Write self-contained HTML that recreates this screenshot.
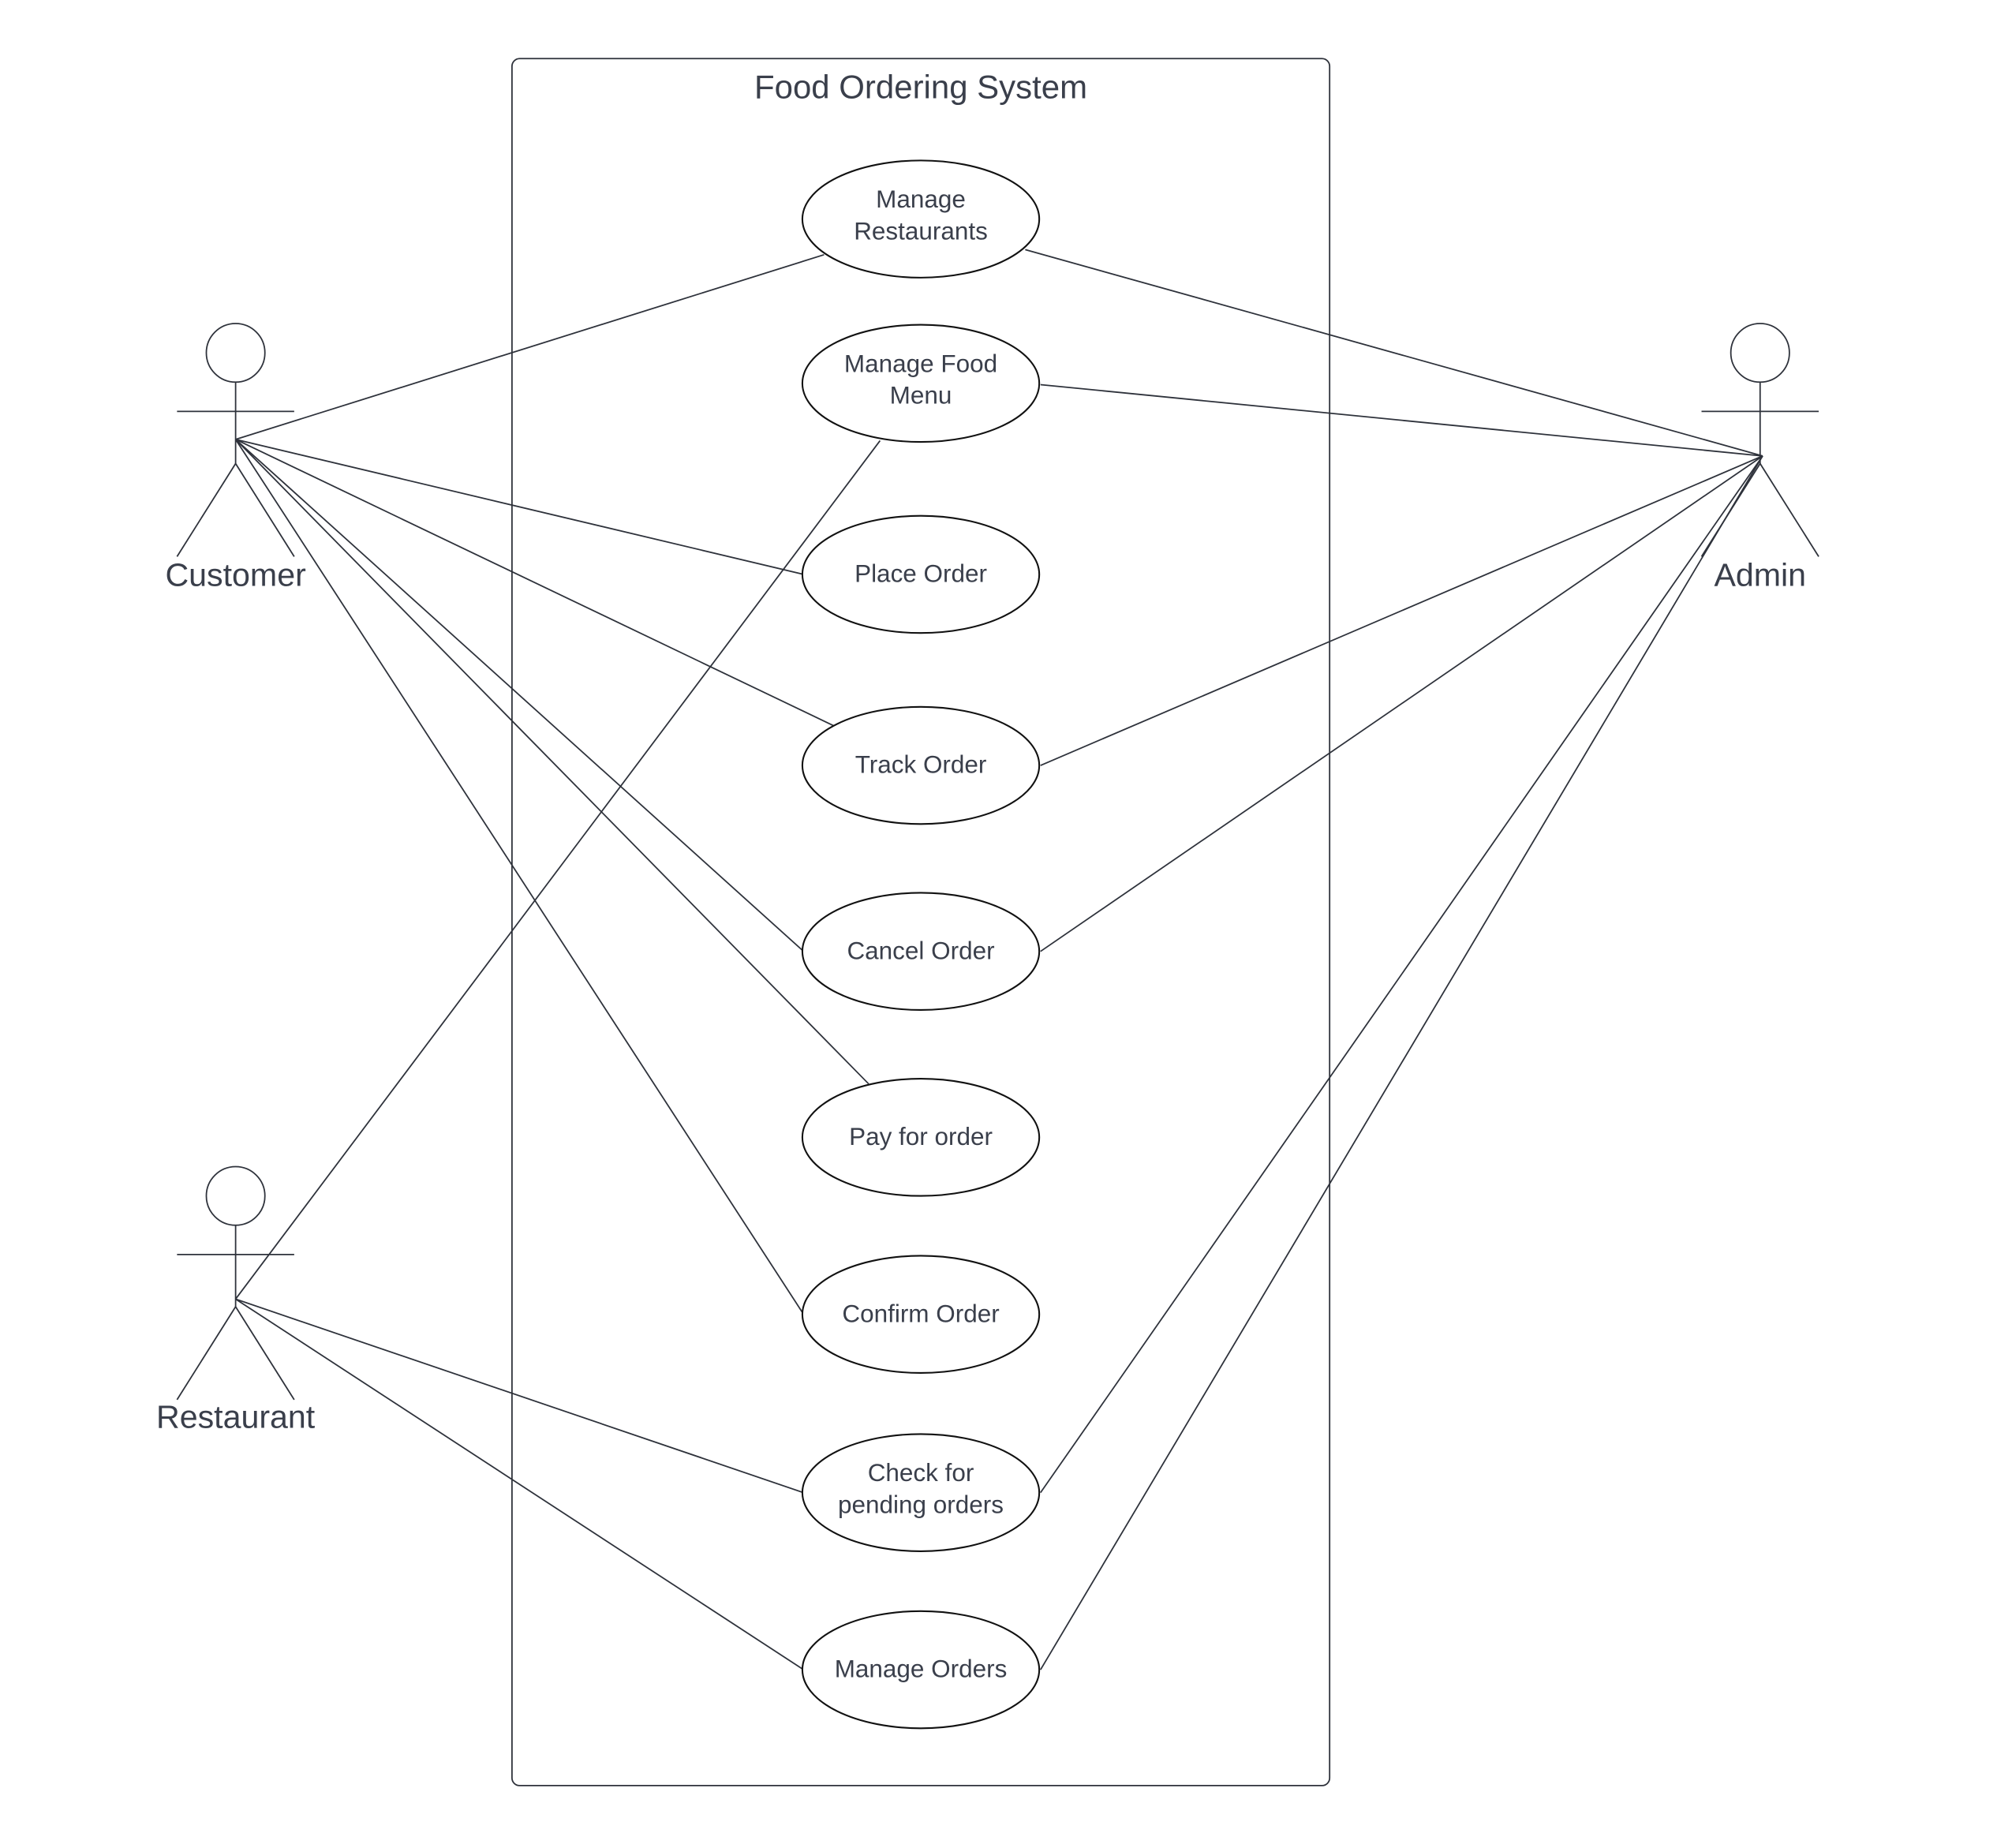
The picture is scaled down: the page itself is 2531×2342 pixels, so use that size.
<!DOCTYPE html>
<html><head><meta charset="utf-8"><style>
html,body{margin:0;padding:0;background:#fff;}
svg{display:block;}
text{font-family:"Liberation Sans",sans-serif;fill:#3a3f4b;text-anchor:middle;}
</style></head><body>
<svg width="2531" height="2342" viewBox="0 0 1568 1451" preserveAspectRatio="none" xmlns="http://www.w3.org/2000/svg">
<g fill="none" stroke="#2e323b" stroke-width="1.1">
<rect x="402" y="46" width="642" height="1356" rx="6"/>
<line x1="185" y1="345" x2="647" y2="200"/>
<line x1="185" y1="345" x2="631" y2="451"/>
<line x1="185" y1="345" x2="655" y2="570"/>
<line x1="185" y1="345" x2="631" y2="747"/>
<line x1="185" y1="345" x2="682" y2="851"/>
<line x1="185" y1="345" x2="631" y2="1032"/>
<line x1="1384" y1="358" x2="805" y2="196"/>
<line x1="1384" y1="358" x2="817" y2="302"/>
<line x1="1384" y1="358" x2="817" y2="601"/>
<line x1="1384" y1="358" x2="817" y2="747"/>
<line x1="1384" y1="358" x2="817" y2="1172"/>
<line x1="1384" y1="358" x2="817" y2="1311"/>
<line x1="185" y1="1020" x2="691" y2="346"/>
<line x1="185" y1="1020" x2="631" y2="1172"/>
<line x1="185" y1="1020" x2="631" y2="1311"/>
<circle cx="185" cy="277" r="23"/><line x1="185" y1="300" x2="185" y2="364"/><line x1="139" y1="323" x2="231" y2="323"/><line x1="185" y1="364" x2="139" y2="437"/><line x1="185" y1="364" x2="231" y2="437"/>
<circle cx="1382" cy="277" r="23"/><line x1="1382" y1="300" x2="1382" y2="364"/><line x1="1336" y1="323" x2="1428" y2="323"/><line x1="1382" y1="364" x2="1336" y2="437"/><line x1="1382" y1="364" x2="1428" y2="437"/>
<circle cx="185" cy="939" r="23"/><line x1="185" y1="962" x2="185" y2="1026"/><line x1="139" y1="985" x2="231" y2="985"/><line x1="185" y1="1026" x2="139" y2="1099"/><line x1="185" y1="1026" x2="231" y2="1099"/>
</g>
<g fill="#fff" stroke="#111" stroke-width="1.3">
<ellipse cx="723" cy="172" rx="93" ry="46"/>
<ellipse cx="723" cy="301" rx="93" ry="46"/>
<ellipse cx="723" cy="451" rx="93" ry="46"/>
<ellipse cx="723" cy="601" rx="93" ry="46"/>
<ellipse cx="723" cy="747" rx="93" ry="46"/>
<ellipse cx="723" cy="893" rx="93" ry="46"/>
<ellipse cx="723" cy="1032" rx="93" ry="46"/>
<ellipse cx="723" cy="1172" rx="93" ry="46"/>
<ellipse cx="723" cy="1311" rx="93" ry="46"/>
</g>
<text x="723" y="77" font-size="26">Food Ordering System</text>
<g font-size="19.5">
<text x="723" y="163">Manage</text><text x="723" y="188">Restaurants</text>
<text x="723" y="292">Manage Food</text><text x="723" y="317">Menu</text>
<text x="723" y="457">Place Order</text>
<text x="723" y="607">Track Order</text>
<text x="723" y="753">Cancel Order</text>
<text x="723" y="899">Pay for order</text>
<text x="723" y="1038">Confirm Order</text>
<text x="723" y="1163">Check for</text><text x="723" y="1188">pending orders</text>
<text x="723" y="1317">Manage Orders</text>
</g>
<g font-size="25.5">
<text x="185" y="460">Customer</text>
<text x="1382" y="460">Admin</text>
<text x="185" y="1121">Restaurant</text>
</g>
</svg>
</body></html>
